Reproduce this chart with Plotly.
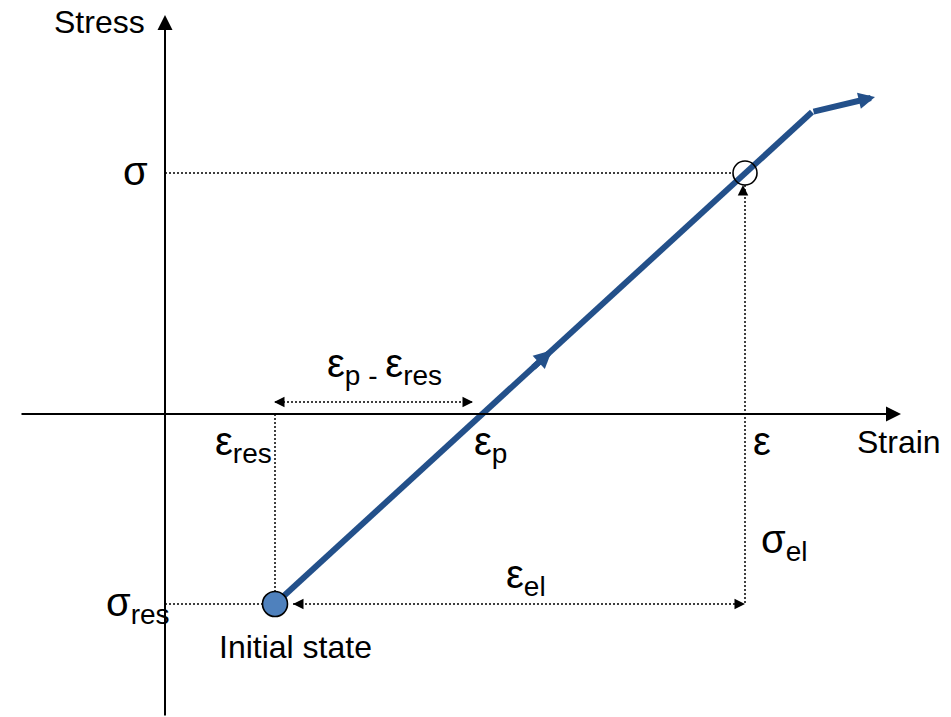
import numpy as np
import plotly.graph_objects as go

# Schematic stress-strain quantities (strain on x, stress on y)
eps_res = 110
eps_p = 315
eps = 580
sigma = 241
sigma_res = -190

# Loading path: from the initial residual state, elastic line, then hardening branch
path_x = [eps_res, 647, 710]
path_y = [sigma_res, 302, 317]

# Axis extents
x_min, x_max = -165, 786
y_min, y_max = -303, 414
x_axis_start, x_axis_tip = -145, 736
y_axis_tip = 399

BLUE = "#23508A"
FILL = "#4F81BD"
FONT = "Arial, 'Liberation Sans', sans-serif"

fig = go.Figure()

# Dotted guide lines
def dotted(x0, y0, x1, y1):
    fig.add_shape(type="line", x0=x0, y0=y0, x1=x1, y1=y1, xref="x", yref="y",
                  line=dict(color="black", width=1.5, dash="2px,2px"))

r_open = 12
dotted(0, sigma, eps - r_open, sigma)                 # sigma level
dotted(0, sigma_res, eps_res - 12, sigma_res)         # sigma_res level
dotted(eps_res, 0, eps_res, sigma_res + 12)           # eps_res drop
dotted(eps_res, 12, eps_p - 8, 12)                    # eps_p - eps_res span
dotted(eps, sigma - r_open, eps, sigma_res)           # elastic stress span
dotted(eps_res + 18, sigma_res, eps, sigma_res)       # elastic strain span

# Loading path
fig.add_trace(go.Scatter(x=path_x[:2], y=path_y[:2], mode="lines",
                         line=dict(color=BLUE, width=6), hoverinfo="skip"))

# Current state marker (open) and initial state marker (filled)
fig.add_trace(go.Scatter(x=[eps], y=[sigma], mode="markers",
                         marker=dict(symbol="circle-open", size=24, color="black",
                                     line=dict(width=1.6)), hoverinfo="skip"))
fig.add_trace(go.Scatter(x=[eps_res], y=[sigma_res], mode="markers",
                         marker=dict(symbol="circle", size=25, color=FILL,
                                     line=dict(width=1.6, color="black")), hoverinfo="skip"))

anns = []

def arrow(x, y, ax, ay, color="black", width=2, size=1.5):
    anns.append(dict(x=x, y=y, ax=ax, ay=ay, xref="x", yref="y", axref="x", ayref="y",
                     text="", showarrow=True, arrowhead=2, arrowsize=size,
                     arrowwidth=width, arrowcolor=color, standoff=0, startstandoff=0))

# Coordinate axes
arrow(0, y_axis_tip, 0, y_min)
arrow(x_axis_tip, 0, x_axis_start, 0)

# Hardening branch with arrow head, and direction arrow on the elastic line
arrow(path_x[2], path_y[2], path_x[1], path_y[1], color=BLUE, width=6, size=0.55)
mid_x = 387
mid_y = float(np.interp(mid_x, path_x[:2], path_y[:2]))
tail_x = mid_x - 20
tail_y = float(np.interp(tail_x, path_x[:2], path_y[:2]))
arrow(mid_x, mid_y, tail_x, tail_y, color=BLUE, width=6, size=0.6)

# Heads for the dotted dimension arrows
h = 10
arrow(eps_res - 1, 12, eps_res - 1 + h, 12, width=1.5, size=1.4)
arrow(eps_p - 7, 12, eps_p - 7 - h, 12, width=1.5, size=1.4)
arrow(eps - 2, sigma - r_open, eps - 2, sigma - r_open - h, width=1.5, size=1.4)
arrow(eps_res + 18, sigma_res, eps_res + 18 + h, sigma_res, width=1.5, size=1.4)
arrow(eps, sigma_res, eps - h, sigma_res, width=1.5, size=1.4)

def label(x, y, text, size=40, xanchor="left"):
    anns.append(dict(x=x, y=y, xref="x", yref="y", text=text, showarrow=False,
                     xanchor=xanchor, yanchor="middle",
                     font=dict(family=FONT, size=size, color="black")))

label(-18, 392, "Stress", size=32, xanchor="right")
label(690, -28, "Strain", size=32)
label(-44, sigma + 2, "σ")
label(48, -30, "ε<sub>res</sub>")
label(eps_p - 8, -30, "ε<sub>p</sub>")
label(586, -27, "ε")
label(160, 48, "ε<sub>p - </sub>ε<sub>res</sub>")
label(594, -128, "σ<sub>el</sub>")
label(339, -163, "ε<sub>el</sub>")
label(-61, sigma_res - 1, "σ<sub>res</sub>")
label(52, -233, "Initial state", size=32)

fig.update_layout(
    annotations=anns,
    width=951, height=717,
    margin=dict(l=0, r=0, t=0, b=0),
    paper_bgcolor="white", plot_bgcolor="white",
    showlegend=False,
    xaxis=dict(range=[x_min, x_max], visible=False, fixedrange=True),
    yaxis=dict(range=[y_min, y_max], visible=False, fixedrange=True),
)

fig.write_html("out.html")
